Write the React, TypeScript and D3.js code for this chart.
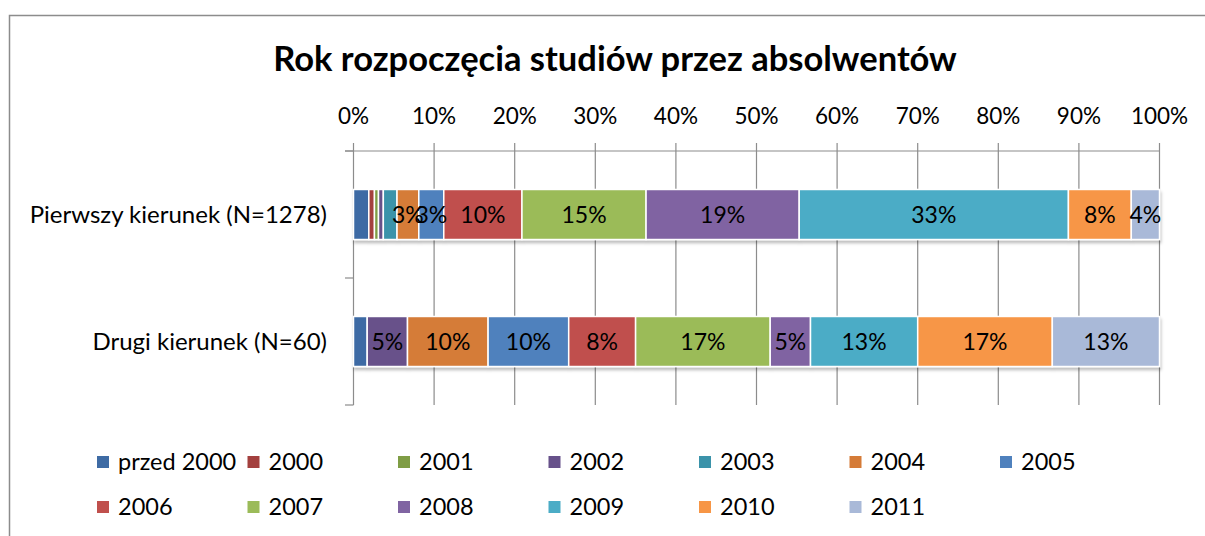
import React, { useRef, useEffect } from "react";
import * as d3 from "d3";

/* categories (top to bottom) */
const CATEGORIES = ["Pierwszy kierunek (N=1278)", "Drugi kierunek (N=60)"];

/* series = start year, in legend order */
const SERIES = [
  "przed 2000", "2000", "2001", "2002", "2003", "2004", "2005",
  "2006", "2007", "2008", "2009", "2010", "2011",
];

/* percent share per series, one array per category */
const PIERWSZY = [1.9, 0.7, 0.5, 0.6, 1.7, 2.7, 3.1, 9.7, 15.4, 19.0, 33.4, 7.8, 3.5];
const DRUGI = [1.7, 0, 0, 5.0, 0, 10.0, 10.0, 8.3, 16.7, 5.0, 13.3, 16.7, 13.3];

const COLORS = [
  "#3E6BA4", "#A3403E", "#7F9D45", "#67518A", "#3B93AA", "#D57B37", "#4F81BD",
  "#C0504D", "#9BBB59", "#8064A2", "#4BACC6", "#F79646", "#A9B9D8",
];

const TICKS = [0, 10, 20, 30, 40, 50, 60, 70, 80, 90, 100];

export default function App() {
  const svgRef = useRef<SVGSVGElement>(null);

  useEffect(() => {
    const W = 1205;
    const H = 536;
    const FONT = "Lato, 'Open Sans', sans-serif";
    const rows = [PIERWSZY, DRUGI];

    const svg = d3
      .select(svgRef.current)
      .attr("width", W)
      .attr("height", H)
      .style("font-family", FONT);
    svg.selectAll("*").remove();

    /* ---- frame ---- */
    svg.append("rect").attr("width", W).attr("height", H).attr("fill", "#fff");
    svg
      .append("rect")
      .attr("x", 9.5)
      .attr("y", 15.5)
      .attr("width", W + 20)
      .attr("height", H + 20)
      .attr("fill", "none")
      .attr("stroke", "#8c8c8c")
      .attr("stroke-width", 1.5);

    /* ---- shadow filter ---- */
    const defs = svg.append("defs");
    const f = defs.append("filter").attr("id", "shadow").attr("x", "-5%").attr("y", "-20%").attr("width", "110%").attr("height", "150%");
    f.append("feDropShadow")
      .attr("dx", 1)
      .attr("dy", 3)
      .attr("stdDeviation", 1.5)
      .attr("flood-color", "#000")
      .attr("flood-opacity", 0.25);

    /* ---- scales ---- */
    const x = d3.scaleLinear().domain([0, 100]).range([353.5, 1159.5]);
    const y = d3
      .scaleBand()
      .domain(CATEGORIES)
      .range([151, 405])
      .paddingInner(0.606)
      .paddingOuter(0.303);

    /* ---- title ---- */
    svg
      .append("text")
      .attr("x", 615)
      .attr("y", 71)
      .attr("text-anchor", "middle")
      .style("font-size", "34.5px")
      .style("font-weight", 700)
      .text("Rok rozpoczęcia studiów przez absolwentów");

    /* ---- gridlines ---- */
    svg
      .append("g")
      .selectAll("line")
      .data(TICKS.slice(1))
      .join("line")
      .attr("x1", (d) => x(d))
      .attr("x2", (d) => x(d))
      .attr("y1", 143)
      .attr("y2", 405)
      .attr("stroke", "#8c8c8c")
      .attr("stroke-width", 1.2);

    /* ---- value axis (top) ---- */
    svg
      .append("line")
      .attr("x1", 345)
      .attr("x2", x(100))
      .attr("y1", 151)
      .attr("y2", 151)
      .attr("stroke", "#8c8c8c")
      .attr("stroke-width", 1.2);
    svg
      .append("line")
      .attr("x1", x(0))
      .attr("x2", x(0))
      .attr("y1", 143)
      .attr("y2", 405)
      .attr("stroke", "#8c8c8c")
      .attr("stroke-width", 1.2);
    svg
      .append("g")
      .selectAll("text")
      .data(TICKS)
      .join("text")
      .attr("x", (d) => x(d))
      .attr("y", 124)
      .attr("text-anchor", "middle")
      .style("font-size", "22.5px")
      .text((d) => `${d}%`);

    /* ---- category axis ticks ---- */
    const bounds = [151, (y(CATEGORIES[0])! + y.bandwidth() + y(CATEGORIES[1])!) / 2, 405];
    svg
      .append("g")
      .selectAll("line")
      .data(bounds)
      .join("line")
      .attr("x1", 345)
      .attr("x2", x(0))
      .attr("y1", (d) => d)
      .attr("y2", (d) => d)
      .attr("stroke", "#8c8c8c")
      .attr("stroke-width", 1.2);
    svg
      .append("g")
      .selectAll("text")
      .data(CATEGORIES)
      .join("text")
      .attr("x", 327)
      .attr("y", (d) => y(d)! + y.bandwidth() / 2)
      .attr("dy", "0.35em")
      .attr("text-anchor", "end")
      .style("font-size", "24px")
      .text((d) => d);

    /* ---- stacked bars ---- */
    CATEGORIES.forEach((cat, ci) => {
      const vals = rows[ci];
      let acc = 0;
      const segs = vals.map((v, i) => {
        const s = { i, v, x0: acc, x1: acc + v };
        acc += v;
        return s;
      });
      const g = svg.append("g");
      g.append("g")
        .attr("filter", "url(#shadow)")
        .selectAll("rect")
        .data(segs.filter((s) => s.v > 0))
        .join("rect")
        .attr("x", (s) => x(s.x0))
        .attr("y", y(cat)!)
        .attr("width", (s) => x(s.x1) - x(s.x0))
        .attr("height", y.bandwidth())
        .attr("fill", (s) => COLORS[s.i])
        .attr("stroke", "#fff")
        .attr("stroke-width", 1.5);
      g.selectAll("text")
        .data(segs.filter((s) => s.v >= 2.5))
        .join("text")
        .attr("x", (s) => (x(s.x0) + x(s.x1)) / 2)
        .attr("y", y(cat)! + y.bandwidth() / 2)
        .attr("dy", "0.35em")
        .attr("text-anchor", "middle")
        .style("font-size", "23px")
        .text((s) => `${Math.round(s.v)}%`);
    });

    /* ---- legend ---- */
    const leg = svg
      .append("g")
      .selectAll("g")
      .data(SERIES)
      .join("g")
      .attr("transform", (_, i) => `translate(${97 + (i % 7) * 150.5},${462 + Math.floor(i / 7) * 45})`);
    leg
      .append("rect")
      .attr("x", 0)
      .attr("y", -6)
      .attr("width", 12)
      .attr("height", 12)
      .attr("fill", (_, i) => COLORS[i]);
    leg
      .append("text")
      .attr("x", 21)
      .attr("dy", "0.35em")
      .style("font-size", "23.5px")
      .text((d) => d);
  }, []);

  return <svg ref={svgRef} style={{ position: "fixed", left: 0, top: 0, display: "block" }} />;
}
